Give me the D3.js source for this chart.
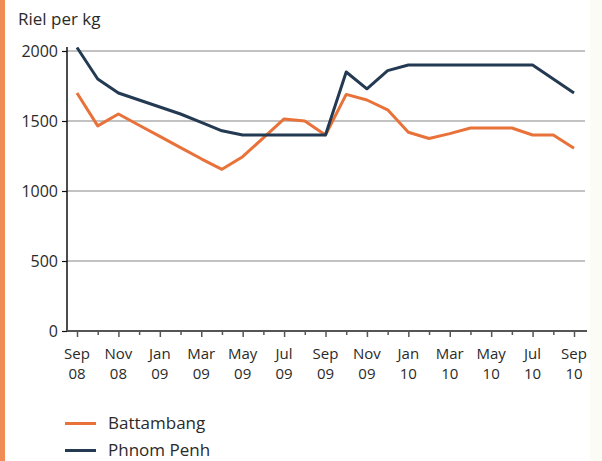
<!DOCTYPE html>
<html>
<head>
<meta charset="utf-8">
<script src="https://cdn.jsdelivr.net/npm/d3@7"></script>
<style>
  html, body { margin: 0; padding: 0; background: #ffffff; }
  svg { display: block; font-family: "Open Sans", sans-serif; }
</style>
</head>
<body>
<svg id="chart" width="602" height="461"></svg>
<script>
// ---- Data ----
const months = ["Sep 08","Oct 08","Nov 08","Dec 08","Jan 09","Feb 09","Mar 09","Apr 09","May 09","Jun 09","Jul 09","Aug 09",
                "Sep 09","Oct 09","Nov 09","Dec 09","Jan 10","Feb 10","Mar 10","Apr 10","May 10","Jun 10","Jul 10","Aug 10","Sep 10"];
const battambang = [1700,1465,1550,1470,1390,1310,1230,1155,1245,1380,1515,1500,
                    1400,1690,1650,1580,1420,1375,1410,1450,1450,1450,1400,1400,1305];
const phnomPenh  = [2025,1800,1700,1650,1600,1550,1490,1430,1400,1400,1400,1400,
                    1400,1850,1730,1860,1900,1900,1900,1900,1900,1900,1900,1800,1700];
const yTicks = [0, 500, 1000, 1500, 2000];
const seriesNames = ["Battambang", "Phnom Penh"];
const unitLabel = "Riel per kg";

// ---- Layout ----
const svg = d3.select("#chart");
const colors = { "Battambang": "#e8723a", "Phnom Penh": "#233a52" };

const x = d3.scalePoint().domain(months).range([77, 574]);
const y = d3.scaleLinear().domain([0, 2000]).range([331, 51]);

// background accents
svg.append("rect").attr("x", 0).attr("y", 0).attr("width", 602).attr("height", 461).attr("fill", "#ffffff");
svg.append("rect").attr("x", 590).attr("y", 0).attr("width", 12).attr("height", 461).attr("fill", "#fbfcf6");
svg.append("rect").attr("x", 0).attr("y", 0).attr("width", 5).attr("height", 461).attr("fill", "#ef8d55");

// gridlines
svg.append("g").selectAll("line")
  .data(yTicks.filter(d => d > 0))
  .join("line")
  .attr("x1", 67).attr("x2", 585)
  .attr("y1", d => y(d)).attr("y2", d => y(d))
  .attr("stroke", "#c2c2c2").attr("stroke-width", 2);

// y axis
const yAxis = svg.append("g").attr("transform", "translate(67,0)")
  .call(d3.axisLeft(y).tickValues(yTicks).tickSize(5).tickPadding(4).tickFormat(d3.format("d")));
yAxis.select(".domain").attr("stroke", "#111").attr("stroke-width", 1.5).attr("d", `M0,${y(2000) - 4}V${y(0)}`);
yAxis.selectAll(".tick line").attr("stroke", "#111").attr("stroke-width", 1.2);
yAxis.selectAll(".tick text").attr("font-family", "Open Sans").attr("font-size", 16).attr("fill", "#2a2a2a");

// unit label
svg.append("text").attr("x", 18).attr("y", 25)
  .attr("font-size", 17).attr("fill", "#2a2a2a").text(unitLabel);

// x axis
const xAxisG = svg.append("g").attr("transform", `translate(0,${y(0)})`);
xAxisG.call(d3.axisBottom(x).tickSize(0).tickFormat(""));
xAxisG.select(".domain").attr("stroke", "#555").attr("stroke-width", 2).attr("d", "M67,0H587");
xAxisG.selectAll(".tick line")
  .attr("stroke", "#555").attr("stroke-width", 1.5)
  .attr("y2", (d, i) => (i % 2 === 0 ? 6 : 4));

// two-line month labels every 2 months
const lbl = svg.append("g").selectAll("text")
  .data(months.filter((d, i) => i % 2 === 0))
  .join("text")
  .attr("text-anchor", "middle")
  .attr("font-size", 15).attr("fill", "#2a2a2a");
lbl.append("tspan").attr("x", d => x(d)).attr("y", 359).text(d => d.split(" ")[0]);
lbl.append("tspan").attr("x", d => x(d)).attr("y", 379).text(d => d.split(" ")[1]);

// lines
const line = d3.line().x((d, i) => x(months[i])).y(d => y(d));
svg.append("path").datum(battambang)
  .attr("fill", "none").attr("stroke", colors["Battambang"]).attr("stroke-width", 3)
  .attr("stroke-linejoin", "round").attr("d", line);
svg.append("path").datum(phnomPenh)
  .attr("fill", "none").attr("stroke", colors["Phnom Penh"]).attr("stroke-width", 3)
  .attr("stroke-linejoin", "round").attr("d", line);

// legend
const leg = svg.append("g").selectAll("g").data(seriesNames).join("g")
  .attr("transform", (d, i) => `translate(0,${423.5 + i * 27})`);
leg.append("line").attr("x1", 65).attr("x2", 96).attr("y1", 0).attr("y2", 0)
  .attr("stroke", d => colors[d]).attr("stroke-width", 3);
leg.append("text").attr("x", 108).attr("y", 5)
  .attr("font-size", 17).attr("fill", "#2a2a2a").text(d => d);
</script>
</body>
</html>
